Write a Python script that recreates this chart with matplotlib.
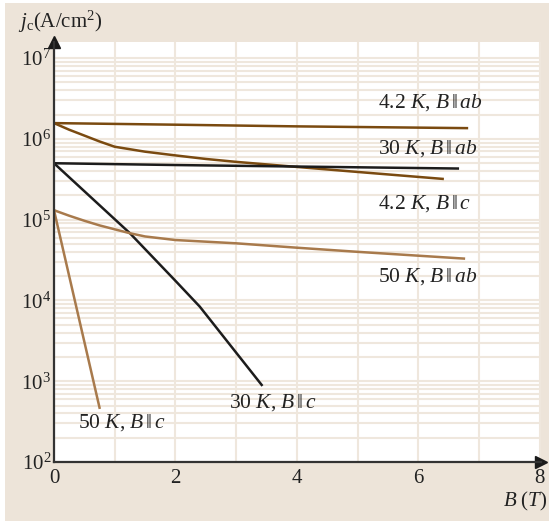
import matplotlib
matplotlib.use("Agg")
import matplotlib.pyplot as plt
from matplotlib.patches import Rectangle
from matplotlib.ticker import LogLocator, LogFormatterSciNotation, MultipleLocator, NullFormatter

plt.rcParams['mathtext.fontset'] = 'custom'
plt.rcParams['mathtext.rm'] = 'Liberation Serif'
plt.rcParams['mathtext.it'] = 'Liberation Serif:italic'
plt.rcParams['font.family'] = ['Liberation Serif', 'DejaVu Serif']

# Data (B in tesla, jc in A/cm^2)
B_42_ab = [0, 2, 4, 6.8]
jc_42_ab = [1.57e6, 1.5e6, 1.43e6, 1.36e6]

B_30_ab = [0, 0.25, 0.5, 0.75, 1, 1.5, 2, 2.5, 3, 4, 5, 6.4]
jc_30_ab = [1.57e6, 1.3e6, 1.1e6, 9.3e5, 8.0e5, 6.95e5, 6.25e5, 5.65e5, 5.2e5, 4.5e5, 3.9e5, 3.2e5]

B_42_c = [0, 2, 4, 6.65]
jc_42_c = [5.0e5, 4.75e5, 4.55e5, 4.3e5]

B_30_c = [0, 1.25, 2.0, 2.4, 3.42]
jc_30_c = [5.0e5, 6.8e4, 1.75e4, 8.4e3, 900]

B_50_ab = [0, 0.25, 0.5, 0.75, 1, 1.25, 1.5, 2, 3, 4, 5, 6.75]
jc_50_ab = [1.31e5, 1.12e5, 9.7e4, 8.5e4, 7.6e4, 6.8e4, 6.2e4, 5.6e4, 5.1e4, 4.5e4, 4.0e4, 3.3e4]

B_50_c = [0, 0.75]
jc_50_c = [1.31e5, 470]

labels = ["4.2 $K$, $B\\,\\|\\,ab$", "30 $K$, $B\\,\\|\\,ab$", "4.2 $K$, $B\\,\\|\\,c$",
          "50 $K$, $B\\,\\|\\,ab$", "30 $K$, $B\\,\\|\\,c$", "50 $K$, $B\\,\\|\\,c$"]
label_pos = [(5.33, 2.85e6), (5.33, 7.7e5), (5.33, 1.6e5), (5.33, 1.95e4), (2.88, 550), (0.4, 305)]

dark_brown = '#7a4a10'
light_brown = '#a87a4c'
black = '#1c1c1c'
bg = '#ede4d9'
grid_c = '#efe7dd'

fig = plt.figure(figsize=(5.55, 5.21), dpi=100)
fig.patch.set_facecolor('white')
fig.patches.append(Rectangle((5/555, 0), 544/555, 518/521, transform=fig.transFigure,
                             facecolor=bg, edgecolor='none', zorder=-10))

ax = fig.add_axes([54/555, 1-462/521, 487/555, 420/521])
ax.set_facecolor('white')
ax.set_yscale('log')
ax.set_xlim(0, 8.02)
ax.set_ylim(1e2, 10**7.2)

ax.xaxis.set_major_locator(MultipleLocator(2))
ax.xaxis.set_minor_locator(MultipleLocator(1))
ax.yaxis.set_major_locator(LogLocator(base=10, numticks=10))
ax.yaxis.set_minor_locator(LogLocator(base=10, subs=range(2, 10), numticks=20))
ax.yaxis.set_major_formatter(LogFormatterSciNotation())
ax.yaxis.set_minor_formatter(NullFormatter())
ax.grid(True, which='both', color=grid_c, linewidth=1.5, zorder=0)
ax.set_axisbelow(True)
ax.tick_params(which='both', length=0, labelsize=15, colors='#222222')
ax.tick_params(axis='x', pad=5)
ax.tick_params(axis='y', pad=2)

for s in ['top', 'right']:
    ax.spines[s].set_visible(False)
for s in ['left', 'bottom']:
    ax.spines[s].set_color('#333333')
    ax.spines[s].set_linewidth(1.6)

ax.plot(1.0, 0, marker='>', color='#1a1a1a', markersize=9, transform=ax.transAxes, clip_on=False)
ax.plot(0, 1.0, marker='^', color='#1a1a1a', markersize=9, transform=ax.transAxes, clip_on=False)

lw = 1.8
ax.plot(B_42_ab, jc_42_ab, color=dark_brown, lw=lw)
ax.plot(B_30_ab, jc_30_ab, color=dark_brown, lw=lw)
ax.plot(B_42_c, jc_42_c, color=black, lw=lw)
ax.plot(B_30_c, jc_30_c, color=black, lw=lw)
ax.plot(B_50_ab, jc_50_ab, color=light_brown, lw=lw)
ax.plot(B_50_c, jc_50_c, color=light_brown, lw=lw)

for t, (x, y) in zip(labels, label_pos):
    ax.text(x, y, t, fontsize=15.5, color='#222222', va='center', ha='left')

fig.text(18/555, 1-22/521, "$j_{\\mathrm{c}}$(A/cm$^2$)", fontsize=15, color='#222222', va='center', ha='left')
fig.text(548/555, 1-501/521, "$B$ ($T$)", fontsize=15, color='#222222', va='center', ha='right')

fig.savefig('out.png', dpi=100, facecolor=fig.get_facecolor())
